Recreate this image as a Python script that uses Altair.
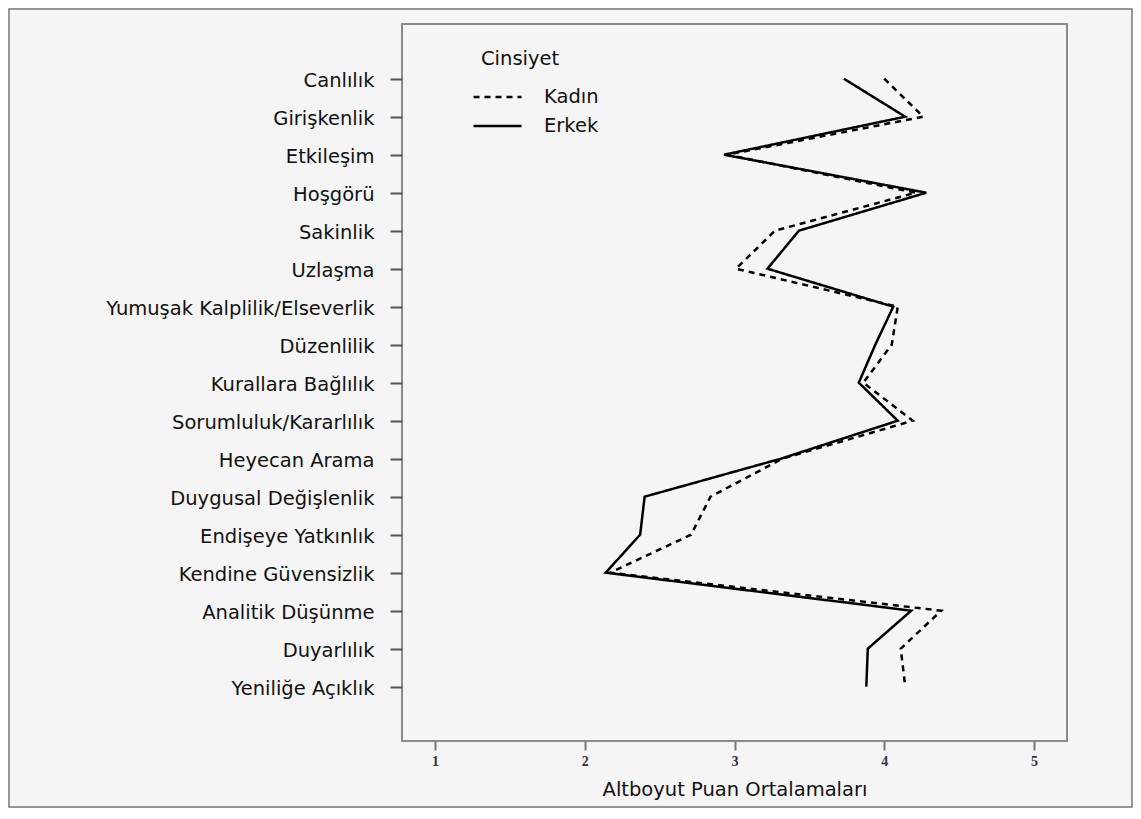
import altair as alt
import pandas as pd
import json

categories = [
    "Canlılık", "Girişkenlik", "Etkileşim", "Hoşgörü", "Sakinlik", "Uzlaşma",
    "Yumuşak Kalplilik/Elseverlik", "Düzenlilik", "Kurallara Bağlılık",
    "Sorumluluk/Kararlılık", "Heyecan Arama", "Duygusal Değişlenlik",
    "Endişeye Yatkınlık", "Kendine Güvensizlik", "Analitik Düşünme",
    "Duyarlılık", "Yeniliğe Açıklık",
]
kadin = [4.00, 4.26, 2.95, 4.21, 3.27, 3.01, 4.09, 4.05, 3.86, 4.19, 3.32,
         2.84, 2.71, 2.17, 4.38, 4.11, 4.14]
erkek = [3.73, 4.14, 2.93, 4.28, 3.43, 3.22, 4.06, 3.94, 3.83, 4.09, 3.31,
         2.40, 2.37, 2.14, 4.18, 3.89, 3.88]
groups = ["Kadın", "Erkek"]
x_ticks = [1, 2, 3, 4, 5]

rows = []
for i, c in enumerate(categories):
    rows.append({"alt": c, "ord": i, "grp": "Kadın", "val": kadin[i]})
    rows.append({"alt": c, "ord": i, "grp": "Erkek", "val": erkek[i]})
df = pd.DataFrame(rows)

FONT = "DejaVu Sans"
FS = 19.5
W, H = 665, 717
PL, PT, PR, PB = 394, 16, 66, 67
n = len(categories)
label_expr = json.dumps(categories, ensure_ascii=False) + "[round(datum.value)]"

lines = alt.Chart(df).mark_line(color="black", strokeWidth=2.5).encode(
    x=alt.X("val:Q",
            scale=alt.Scale(domain=[0.78, 5.22], nice=False, zero=False),
            axis=alt.Axis(values=x_ticks, format="d", title="Altboyut Puan Ortalamaları",
                          grid=False, domain=False, tickSize=9, tickColor="#777",
                          tickWidth=2, labelFont="Liberation Serif", labelFontSize=14,
                          labelFontWeight="bold", labelColor="#333", labelPadding=4,
                          titleFont=FONT, titleFontSize=FS, titleFontWeight="normal",
                          titleColor="#111", titlePadding=12)),
    y=alt.Y("ord:Q",
            scale=alt.Scale(domain=[-1.44, n - 1 + 1.43], nice=False, zero=False,
                            reverse=True),
            axis=alt.Axis(title=None, domain=False, grid=False,
                          values=list(range(n)), labelExpr=label_expr,
                          tickSize=12, tickColor="#555", labelLimit=500,
                          tickWidth=2, labelFont=FONT, labelFontSize=FS,
                          labelColor="#111", labelPadding=16, labelOffset=2)),
    strokeDash=alt.StrokeDash(
        "grp:N",
        scale=alt.Scale(domain=groups, range=[[6, 5], [1, 0]]),
        legend=alt.Legend(title="Cinsiyet", orient="none", legendX=79, legendY=26,
                          symbolType="M-1.6,0L1.6,0", symbolSize=900,
                          symbolStrokeWidth=2.6,
                          symbolStrokeColor="black", labelFont=FONT, labelFontSize=FS,
                          labelColor="#111", labelOffset=30, titleFont=FONT,
                          titleFontSize=FS, titleFontWeight="normal", titleColor="#111",
                          titlePadding=11, rowPadding=3)),
    order="ord:Q",
    detail="grp:N",
)

frame = alt.Chart(pd.DataFrame({"f": [0]})).mark_rect(
    fill=None, stroke="#777", strokeWidth=1.5
).encode(
    x=alt.value(-PL + 1), x2=alt.value(W + PR - 1),
    y=alt.value(-PT + 1), y2=alt.value(H + PB - 1),
)

chart = alt.layer(frame, lines).properties(
    width=W, height=H,
    autosize=alt.AutoSizeParams(type="none"),
    padding={"left": PL, "top": PT, "right": PR, "bottom": PB},
    background="#f5f5f5",
).configure_view(
    stroke="#8a8a8a", strokeWidth=2, fill="#f5f5f5"
)

chart.save("out.html", embed_options={"renderer": "svg", "actions": False})
